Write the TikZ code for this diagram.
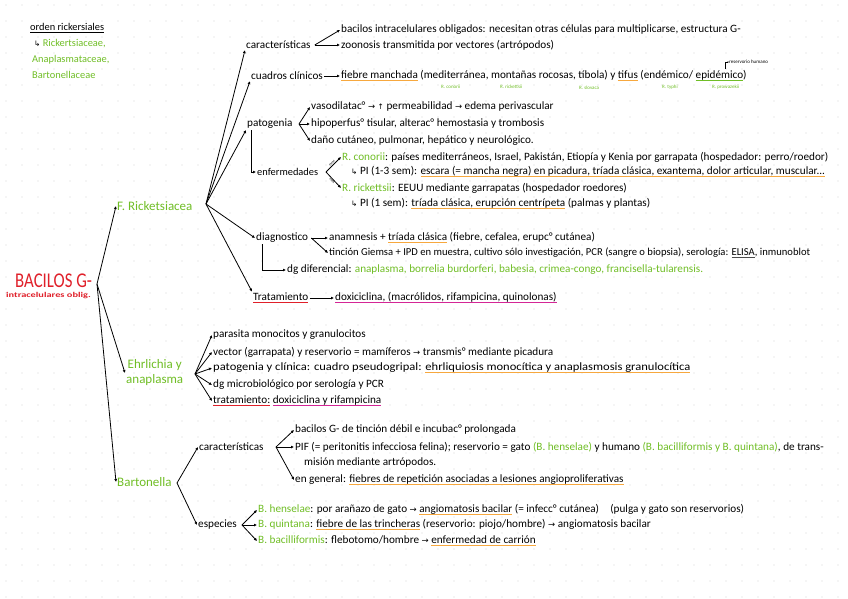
\documentclass[tikz,border=0pt]{standalone}
\usepackage{fontspec}
\setmainfont{Carlito}
\newfontfamily\symfont{DejaVu Sans}
\usetikzlibrary{arrows.meta}

\definecolor{handgreen}{RGB}{112,190,38}
\definecolor{handorange}{RGB}{247,168,62}
\definecolor{handred}{RGB}{224,32,42}
\definecolor{handpink}{RGB}{212,38,150}
\definecolor{dotgray}{RGB}{214,214,214}

% coloured underline and small symbols
\newcommand{\ulc}[2]{\setbox0\hbox{#2}\rlap{\textcolor{#1}{\rule[-2.6pt]{\wd0}{1.2pt}}}\box0\relax}
\newcommand{\ra}{{\symfont\fontsize{8.5}{8}\selectfont →}}
\newcommand{\hk}{{\symfont\fontsize{7.5}{7}\selectfont ↳}}
\newcommand{\gr}[1]{\textcolor{handgreen}{#1}}

\begin{document}
\begin{tikzpicture}[x=1pt,y=-1pt,
  >={Latex[length=3pt,width=3pt]},
  txt/.style={anchor=west,inner sep=1pt,font=\fontsize{11.2}{13}\selectfont},
  grtxt/.style={txt,text=handgreen,font=\fontsize{13}{15}\selectfont},
  famtxt/.style={txt,text=handgreen,font=\fontsize{10.4}{12}\selectfont},
  tag/.style={anchor=west,inner sep=0pt,text=handgreen,font=\fontsize{5}{6}\selectfont},
  link/.style={->,line width=0.8pt}]
% Background
\fill[white] (0,0) rectangle (848,599);
\useasboundingbox (0,0) rectangle (848,599);
\foreach \i in {0,...,52}
  \foreach \j in {0,...,37}
    \fill[dotgray] (\i*16+6,\j*16+5) circle (0.6);
% Order
\node[txt,font=\fontsize{10.4}{12}\selectfont] (orden) at (29,28) {\ulc{black}{orden rickersiales}};
\node[famtxt] (fam1) at (33,44) {\textcolor{black}{\hk} Rickertsiaceae,};
\node[famtxt] (fam2) at (31,60) {Anaplasmataceae,};
\node[famtxt] (fam3) at (31,75) {Bartonellaceae};
% Root
\node[anchor=west,inner sep=0pt,text=handred] (root) at (15,281) {\scalebox{0.8}[1]{\fontsize{21}{22}\selectfont BACILOS G-}};
\node[anchor=west,inner sep=0pt,text=handred,font=\fontsize{7.4}{8}\selectfont\bfseries] (rootsub) at (6,296) {\scalebox{1.4}[1]{intracelulares oblig.}};
\coordinate (hub0) at (97,284);
% Rickettsiaceae
\node[grtxt] (rick) at (116,206) {F. Ricketsiacea};
\coordinate (hub1) at (206,204);
\draw[link] (hub0) -- (rick.west);
\node[txt] (carac) at (245,45) {características};
\node[txt] (cuad) at (250,76) {cuadros clínicos};
\node[txt] (patog) at (246,124) {patogenia};
\node[txt] (diag) at (255,238) {diagnostico};
\node[txt] (trat) at (252,298) {\ulc{handred}{Tratamiento}};
\draw[link] (hub1) -- (carac.south west);
\draw[link] (hub1) -- (cuad.south west);
\draw[link] (hub1) -- (patog.south west);
\draw[link] (hub1) -- (diag.west);
\draw[link] (hub1) -- (trat.north west);
% caracteristicas
\node[txt] (bac) at (340,30) {bacilos intracelulares obligados: necesitan otras células para multiplicarse, estructura G-};
\node[txt] (zoo) at (340,45) {zoonosis transmitida por vectores (artrópodos)};
\draw[link] ([xshift=3pt]carac.east) -- (bac.west);
\draw[link] ([xshift=3pt]carac.east) -- (zoo.west);
% cuadros clinicos
\node[txt] (fieb) at (340,76) {\ulc{handorange}{fiebre manchada} (mediterránea, montañas rocosas, tíbola) y \ulc{handorange}{tifus} (endémico/ \ulc{handgreen}{epidémico})};
\draw[link] (cuad) -- (fieb);
\node[tag] (conor) at (441,87) {R. conorii};
\node[tag] (ricke) at (500,87) {R. rickettsii};
\node[tag] (slov) at (579,88) {R. slovaca};
\node[tag] (typh) at (662,87) {R. typhi};
\node[tag] (prow) at (712,87) {R. prowazekii};
\node[tag,text=black] (resv) at (729,62) {reservorio humano};
\coordinate (epi) at (725,69);
\draw[->,line width=0.5pt,>={Latex[length=1.5pt,width=1.5pt]}] (epi) |- (resv.west);
% patogenia
\coordinate (pfork) at (299,124);
\node[txt] (vaso) at (310,107) {vasodilatac° \ra\ {\symfont\fontsize{7.5}{7}\selectfont ↑} permeabilidad \ra\ edema perivascular};
\node[txt] (hipo) at (310,124) {hipoperfus° tisular, alterac° hemostasia y trombosis};
\node[txt] (dano) at (310,141) {daño cutáneo, pulmonar, hepático y neurológico.};
\draw[link] (pfork) -- (vaso.west);
\draw[link] (pfork) -- (hipo.west);
\draw[link] (pfork) -- (dano.west);
% enfermedades
\node[txt,font=\fontsize{10.4}{12}\selectfont] (enf) at (256,172) {enfermedades};
\draw[link] ([xshift=5pt]patog.south west) |- (enf.west);
\coordinate (efork) at (326,172);
\node[txt] (con) at (341,157) {\gr{R. conorii}: países mediterráneos, Israel, Pakistán, Etiopía y Kenia por garrapata (hospedador: perro/roedor)};
\node[txt] (conpi) at (350,172) {\hk\ PI (1-3 sem): \ulc{handorange}{escara (= mancha negra) en picadura, tríada clásica, exantema, dolor articular, muscular...}};
\node[txt] (rik) at (341,188) {\gr{R. rickettsii}: EEUU mediante garrapatas (hospedador roedores)};
\node[txt] (rikpi) at (350,204) {\hk\ PI (1 sem): \ulc{handorange}{tríada clásica, erupción centrípeta} (palmas y plantas)};
\draw[link] (efork) -- (con.west) node[pos=0.5,above=0.6pt,sloped,inner sep=0pt,font=\fontsize{3.2}{4}\selectfont] (fmm) {FMM};
\draw[link] (efork) -- (rik.west) node[pos=0.5,below=0.6pt,sloped,inner sep=0pt,font=\fontsize{3.2}{4}\selectfont] (fmr) {FMR};
% diagnostico
\node[txt] (anam) at (328,238) {anamnesis + \ulc{handorange}{tríada clásica} (fiebre, cefalea, erupc° cutánea)};
\node[txt,font=\fontsize{10.6}{12}\selectfont] (tinc) at (328,253) {tinción Giemsa + IPD en muestra, cultivo sólo investigación, PCR (sangre o biopsia), serología: \ulc{black!70}{ELISA}, inmunoblot};
\draw[link] ([xshift=2pt]diag.east) -- (anam.west);
\draw[link] ([xshift=2pt]diag.east) -- (tinc.west);
\node[txt] (dgd) at (286,270) {dg diferencial: \gr{anaplasma, borrelia burdorferi, babesia, crimea-congo, francisella-tularensis.}};
\draw[link] ([xshift=7pt]diag.south west) |- (dgd.west);
% tratamiento
\node[txt] (doxi) at (334,298) {\ulc{handpink}{doxiciclina, (macrólidos, rifampicina, quinolonas)}};
\draw[link] (trat) -- (doxi);
% Ehrlichia y anaplasma
\node[grtxt,align=center] (ehr) at (125,373) {Ehrlichia y\\anaplasma};
\draw[link] (hub0) -- (ehr.west);
\coordinate (efan) at (195,374);
\node[txt] (e1) at (212,335) {parasita monocitos y granulocitos};
\node[txt] (e2) at (212,352) {vector (garrapata) y reservorio = mamíferos \ra\ transmis° mediante picadura};
\node[txt] (e3) at (212,368) {\scalebox{1.12}[1]{patogenia y clínica: cuadro pseudogripal: \ulc{handorange}{ehrliquiosis monocítica y anaplasmosis granulocítica}}};
\node[txt] (e4) at (212,385) {dg microbiológico por serología y PCR};
\node[txt] (e5) at (212,401) {\ulc{handred}{tratamiento:} \ulc{handpink}{doxiciclina y rifampicina}};
\foreach \e in {e1,e2,e3,e4,e5}
  \draw[link] (efan) -- (\e.west);
% Bartonella
\node[grtxt] (bart) at (116,482) {Bartonella};
\draw[link] (hub0) -- (bart.west);
\coordinate (bfork) at (177,483);
\node[txt] (bcar) at (198,447) {características};
\node[txt] (besp) at (197,525) {especies};
\draw[link] (bfork) -- (bcar.west);
\draw[link] (bfork) -- (besp.west);
\coordinate (cfork) at (276,447);
\node[txt] (c1) at (294,430) {bacilos G- de tinción débil e incubac° prolongada};
\node[txt] (c2) at (294,447) {PIF (= peritonitis infecciosa felina); reservorio = gato \gr{(B. henselae)} y humano \gr{(B. bacilliformis y B. quintana)}, de trans-};
\node[txt] (c2b) at (303,463) {misión mediante artrópodos.};
\node[txt] (c3) at (294,480) {en general: \ulc{handorange}{fiebres de repetición asociadas a lesiones angioproliferativas}};
\draw[link] (cfork) -- (c1.west);
\draw[link] (cfork) -- (c2.west);
\draw[link] (cfork) -- (c3.west);
\coordinate (sfork) at (242,525);
\node[txt] (s1) at (257,510) {\gr{B. henselae}: por arañazo de gato \ra\ \ulc{handorange}{angiomatosis bacilar} (= infecc° cutánea)\quad(pulga y gato son reservorios)};
\node[txt] (s2) at (257,525) {\gr{B. quintana}: \ulc{handorange}{fiebre de las trincheras} (reservorio: piojo/hombre) \ra\ angiomatosis bacilar};
\node[txt] (s3) at (257,541) {\gr{B. bacilliformis}: flebotomo/hombre \ra\ \ulc{handorange}{enfermedad de carrión}};
\draw[link] (sfork) -- (s1.west);
\draw[link] (sfork) -- (s2.west);
\draw[link] (sfork) -- (s3.west);
\end{tikzpicture}
\end{document}
